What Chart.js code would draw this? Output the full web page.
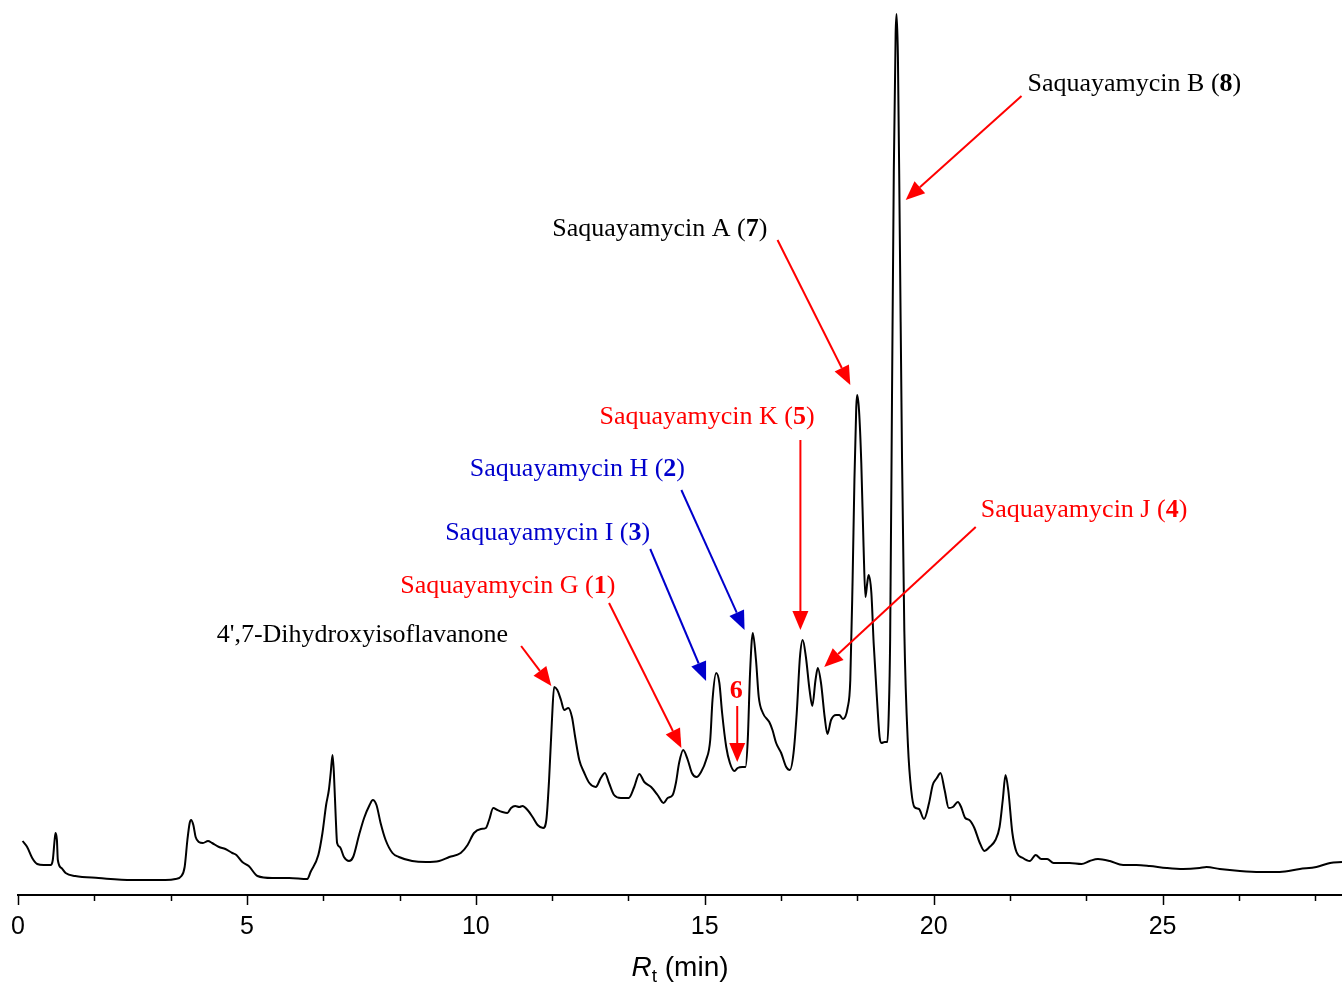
<!DOCTYPE html>
<html><head><meta charset="utf-8">
<script src="https://cdn.jsdelivr.net/npm/chart.js@4.4.0/dist/chart.umd.min.js"></script>
<style>html,body{margin:0;padding:0;background:#fff;overflow:hidden}#wrap{width:1342px;height:984px;position:relative}</style>
</head><body><div id="wrap"><canvas id="c"></canvas></div>
<script>
// Retention time (min)
const retentionTime = [0.10,0.20,0.31,0.42,0.56,0.71,0.76,0.80,0.82,0.85,
0.87,0.95,1.04,1.25,1.76,2.49,3.22,3.44,3.57,3.64,
3.70,3.75,3.78,3.83,3.88,3.95,4.04,4.15,4.24,4.39,
4.53,4.68,4.77,4.90,5.04,5.23,5.55,5.92,6.32,6.39,
6.56,6.65,6.73,6.79,6.83,6.87,6.90,6.94,6.97,7.03,
7.12,7.23,7.32,7.45,7.56,7.68,7.75,7.83,7.92,8.03,
8.18,8.32,8.61,8.91,9.20,9.42,9.67,9.82,9.96,10.11,
10.22,10.29,10.38,10.47,10.58,10.69,10.77,10.86,10.95,11.02,
11.13,11.24,11.35,11.47,11.54,11.60,11.66,11.71,11.78,11.86,
11.93,12.02,12.10,12.17,12.26,12.37,12.48,12.62,12.73,12.82,
12.91,13.02,13.17,13.34,13.46,13.57,13.68,13.83,13.97,14.10,
14.19,14.30,14.37,14.44,14.53,14.63,14.72,14.82,14.92,15.03,
15.12,15.17,15.25,15.32,15.38,15.47,15.55,15.65,15.72,15.82,
15.89,15.94,15.99,16.05,16.12,16.18,16.27,16.41,16.48,16.56,
16.67,16.78,16.86,16.94,17.01,17.08,17.14,17.21,17.29,17.35,
17.42,17.47,17.54,17.62,17.68,17.76,17.87,17.94,18.02,18.12,
18.18,18.23,18.27,18.31,18.33,18.37,18.42,18.47,18.51,18.55,
18.58,18.64,18.69,18.76,18.82,18.86,18.93,18.99,19.02,19.05,
19.09,19.13,19.17,19.19,19.22,19.26,19.31,19.36,19.44,19.51,
19.58,19.68,19.79,19.90,19.98,20.07,20.15,20.24,20.33,20.42,
20.53,20.60,20.69,20.78,20.89,21.00,21.11,21.22,21.35,21.44,
21.51,21.57,21.63,21.72,21.81,21.95,22.10,22.23,22.35,22.48,
22.62,22.97,23.23,23.41,23.59,23.85,24.14,24.43,24.72,25.09,
25.45,25.81,25.96,26.25,26.69,27.13,27.56,28.00,28.36,28.66,28.92];
// Detector response (arbitrary units)
const response = [54,48,37,31,30,30,35,55,62,55,
35,27,22,19,17,15,15,16,19,28,
55,72,75,70,58,53,52,54,52,48,
46,42,40,33,29,19,17,17,16,23,
40,62,90,105,122,140,122,78,52,48,
38,34,38,60,77,90,95,90,72,55,
42,38,34,33,34,38,42,50,62,66,
67,75,87,85,83,82,87,89,88,89,
85,78,70,67,75,115,172,208,205,195,
185,187,178,158,135,122,112,108,117,122,
112,100,97,97,108,121,113,108,100,92,
97,100,112,132,145,135,122,118,123,135,
155,195,222,212,182,148,132,124,127,128,
128,155,222,262,235,198,182,173,165,152,
142,128,125,142,182,238,255,238,205,189,
215,227,212,178,161,175,180,180,176,187,
215,315,415,488,500,485,432,348,298,312,
320,302,252,198,158,152,153,153,182,255,
493,723,861,881,838,665,436,264,149,105,
88,86,76,92,110,117,122,105,87,88,
93,88,77,75,67,53,44,48,55,68,
95,120,105,62,43,37,34,40,36,36,
32,32,31,34,36,34,30,30,29,27,
26,27,28,26,24,23,23,26,28,32,33];
const xTickLabels = ['0','5','10','15','20','25'];
const xMin = 0, xMax = 28.92, yMin = 0, yMax = 895;
const tickStep = 5/3;

// Peak annotations: label anchor and arrow (time, response)
const annotations = [
  {text:'Saquayamycin B (8)', color:'#000000', lx:22.05, ly:811, from:[21.92,799], to:[19.39,695], arrow:'#ff0000', align:'left'},
  {text:'Saquayamycin A (7)', color:'#000000', lx:11.67, ly:666, from:[16.59,655], to:[18.18,510], arrow:'#ff0000', align:'left'},
  {text:'Saquayamycin K (5)', color:'#ff0000', lx:12.70, ly:478, from:[17.09,455], to:[17.09,265], arrow:'#ff0000', align:'left'},
  {text:'Saquayamycin H (2)', color:'#0000cc', lx:9.87, ly:426, from:[14.49,405], to:[15.87,265], arrow:'#0000cc', align:'left'},
  {text:'Saquayamycin J (4)', color:'#ff0000', lx:21.03, ly:385, from:[20.92,368], to:[17.61,228], arrow:'#ff0000', align:'left'},
  {text:'Saquayamycin I (3)', color:'#0000cc', lx:9.33, ly:362, from:[13.81,346], to:[15.03,214], arrow:'#0000cc', align:'left'},
  {text:'Saquayamycin G (1)', color:'#ff0000', lx:8.35, ly:309, from:[12.91,292], to:[14.49,147], arrow:'#ff0000', align:'left'},
  {text:"4',7-Dihydroxyisoflavanone", color:'#000000', lx:4.34, ly:260, from:[10.99,249], to:[11.65,209], arrow:'#ff0000', align:'left'},
  {text:'(6)', color:'#ff0000', lx:15.69, ly:204, from:[15.71,189], to:[15.71,133], arrow:'#ff0000', align:'center', bare:true}
];

const serif = '"Liberation Serif","Times New Roman",Times,serif';
const sans = '"Liberation Sans",Arial,Helvetica,sans-serif';

function drawRich(ctx, parts, x, y, align, color, size){
  let total = 0;
  parts.forEach(p=>{ctx.font=(p.bold?'bold ':'')+size+'px '+serif; p.w=ctx.measureText(p.t).width; total+=p.w;});
  let cx = align==='center' ? x-total/2 : x;
  ctx.fillStyle=color; ctx.textBaseline='middle'; ctx.textAlign='left';
  parts.forEach(p=>{ctx.font=(p.bold?'bold ':'')+size+'px '+serif; ctx.fillText(p.t,cx,y); cx+=p.w;});
}
function parseParts(a){
  if(a.bare){ return [{t:a.text.replace(/[()]/g,''),bold:true}]; }
  const m = a.text.match(/^(.*\()(\d+)(\))$/);
  if(!m) return [{t:a.text,bold:false}];
  return [{t:m[1],bold:false},{t:m[2],bold:true},{t:m[3],bold:false}];
}

const overlay = {
  id:'overlay',
  afterDraw(chart){
    const ctx = chart.ctx, xs = chart.scales.x, ys = chart.scales.y;
    ctx.save();
    // tick marks
    ctx.strokeStyle='#000'; ctx.lineWidth=1.5;
    const n = Math.floor(xMax/tickStep+1e-9);
    for(let i=0;i<=n;i++){
      const px = Math.round(xs.getPixelForValue(i*tickStep))+0.5;
      const len = (i%3===0)?10:6;
      ctx.beginPath(); ctx.moveTo(px, xs.top); ctx.lineTo(px, xs.top+len); ctx.stroke();
    }
    // axis title: R_t (min)
    const cx = (chart.chartArea.left+chart.chartArea.right)/2;
    const by = xs.top+81;
    ctx.fillStyle='#000'; ctx.textBaseline='alphabetic'; ctx.textAlign='left';
    const fR='italic 28px '+sans, fT='19px '+sans, fM='28px '+sans;
    ctx.font=fR; const wR=ctx.measureText('R').width;
    ctx.font=fT; const wT=ctx.measureText('t').width;
    ctx.font=fM; const wM=ctx.measureText(' (min)').width;
    let x0 = cx-(wR+wT+wM)/2;
    ctx.font=fR; ctx.fillText('R',x0,by); x0+=wR;
    ctx.font=fT; ctx.fillText('t',x0,by+6); x0+=wT;
    ctx.font=fM; ctx.fillText(' (min)',x0,by);
    // annotations
    annotations.forEach(a=>{
      const lx = xs.getPixelForValue(a.lx), ly = ys.getPixelForValue(a.ly);
      drawRich(ctx, parseParts(a), lx, ly, a.align, a.color, 26);
      const x1 = xs.getPixelForValue(a.from[0]), y1 = ys.getPixelForValue(a.from[1]);
      const x2 = xs.getPixelForValue(a.to[0]), y2 = ys.getPixelForValue(a.to[1]);
      const ang = Math.atan2(y2-y1,x2-x1), hl=19, hw=8;
      const bx = x2-hl*Math.cos(ang), by2 = y2-hl*Math.sin(ang);
      ctx.strokeStyle=a.arrow; ctx.fillStyle=a.arrow; ctx.lineWidth=2;
      ctx.beginPath(); ctx.moveTo(x1,y1); ctx.lineTo(bx,by2); ctx.stroke();
      ctx.beginPath(); ctx.moveTo(x2,y2);
      ctx.lineTo(bx+hw*Math.sin(ang), by2-hw*Math.cos(ang));
      ctx.lineTo(bx-hw*Math.sin(ang), by2+hw*Math.cos(ang));
      ctx.closePath(); ctx.fill();
    });
    ctx.restore();
  }
};

new Chart(document.getElementById('c'), {
  type:'line',
  data:{datasets:[{
    data: retentionTime.map((t,i)=>({x:t,y:response[i]})),
    borderColor:'#000', borderWidth:2, pointRadius:0, fill:false,
    cubicInterpolationMode:'monotone'
  }]},
  options:{
    responsive:true, maintainAspectRatio:false, animation:false, devicePixelRatio:1,
    layout:{padding:{left:18,right:0,top:0,bottom:0}},
    plugins:{legend:{display:false}, tooltip:{enabled:false}},
    scales:{
      x:{type:'linear', min:xMin, max:xMax,
        grid:{display:false, drawOnChartArea:false},
        border:{display:true, color:'#000', width:2},
        afterFit(s){ s.height = 89; },
        ticks:{stepSize:tickStep, includeBounds:false, autoSkip:false, maxRotation:0, padding:9,
          color:'#000', font:{family:sans, size:25},
          callback(v){ const k=v/5; return Math.abs(k-Math.round(k))<1e-6 ? xTickLabels[Math.round(k)] : ''; }}
      },
      y:{display:false, min:yMin, max:yMax}
    }
  },
  plugins:[overlay]
});
</script></body></html>
